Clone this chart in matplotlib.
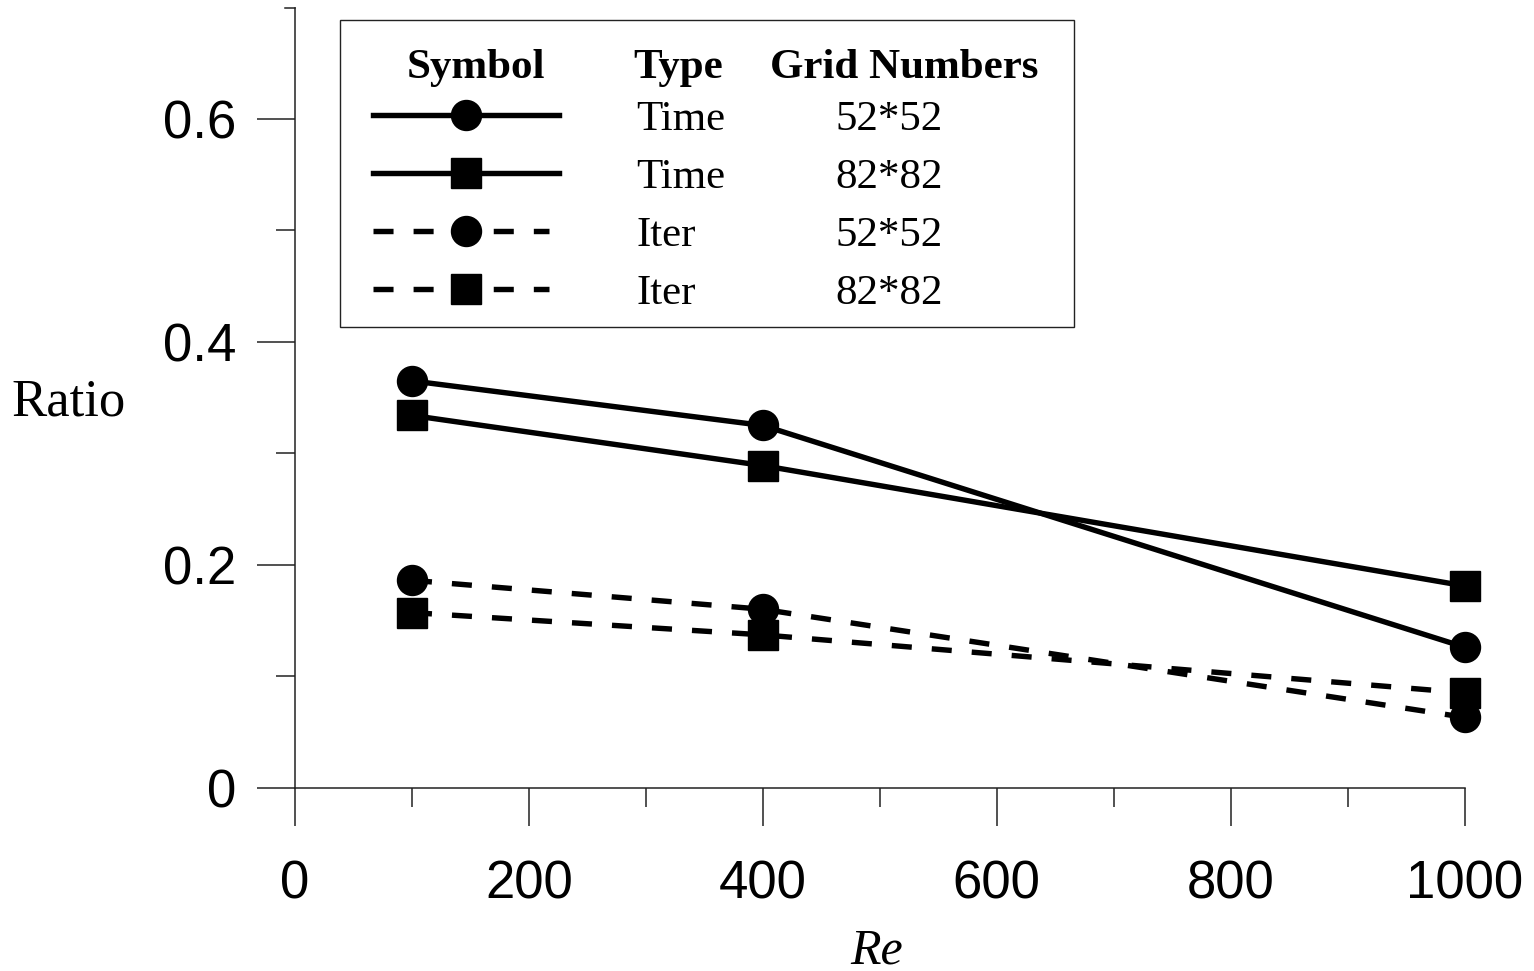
import numpy as np
import matplotlib.pyplot as plt
from matplotlib.lines import Line2D
from matplotlib.patches import Rectangle

# data
re_vals = [100, 400, 1000]
time_52 = [0.365, 0.325, 0.126]
time_82 = [0.334, 0.289, 0.181]
iter_52 = [0.186, 0.160, 0.063]
iter_82 = [0.157, 0.137, 0.085]

series = [time_52, time_82, iter_52, iter_82]
markers = ['o', 's', 'o', 's']
styles = ['solid', 'solid', 'dashed', 'dashed']
types = ['Time', 'Time', 'Iter', 'Iter']
grids = ['52*52', '82*82', '52*52', '82*82']

xticks = [0, 200, 400, 600, 800, 1000]
yticks = [0, 0.2, 0.4, 0.6]
ytick_labels = ['0', '0.2', '0.4', '0.6']

W, H = 1534, 971
serif = 'Liberation Serif'
sans = 'Liberation Sans'
dash = (0, (3.7, 3.7))
lw = 3.9
ms = 21.6


def px(x, y):
    # pixel position -> figure fraction
    return x / W, 1 - y / H


fig = plt.figure(figsize=(W / 100, H / 100), dpi=100)
ax = fig.add_axes([295 / W, (H - 787.5) / H, (1464.5 - 295) / W, (787.5 - 7.7) / H])

for vals, mk, st in zip(series, markers, styles):
    ax.plot(re_vals, vals, color='black', lw=lw, marker=mk, ms=ms,
            linestyle=dash if st == 'dashed' else '-', clip_on=False, zorder=3)

ax.set_xlim(0, 1000)
ax.set_ylim(0, 0.7)
ax.spines['top'].set_visible(False)
ax.spines['right'].set_visible(False)
for s in ['left', 'bottom']:
    ax.spines[s].set_linewidth(1.1)
    ax.spines[s].set_color('#222222')

ax.set_xticks(xticks)
ax.set_xticks(np.arange(100, 1000, 200), minor=True)
ax.set_yticks(yticks)
ax.set_yticklabels(ytick_labels)
ax.set_yticks([0.1, 0.3, 0.5], minor=True)
ax.tick_params(axis='both', which='major', direction='out', length=27.5, width=1.1,
               color='#222222', labelsize=38)
ax.tick_params(axis='both', which='minor', direction='out', length=13.5, width=1.1,
               color='#222222')
ax.tick_params(axis='x', which='major', pad=24)
ax.tick_params(axis='y', which='major', pad=15)
for lab in ax.get_xticklabels() + ax.get_yticklabels():
    lab.set_fontfamily(sans)

# short cap at the top of the y axis
ax.plot([-10 / 1169.5, 0], [1, 1], transform=ax.transAxes, color='#222222',
        lw=1.1, clip_on=False)

fig.text(*px(11, 415), 'Ratio', family=serif, fontsize=38, ha='left', va='baseline')
fig.text(*px(877, 963), 'Re', family=serif, style='italic', fontsize=36,
         ha='center', va='baseline')

# hand-made legend box
x0, y0 = px(340, 327)
x1, y1 = px(1074, 20)
fig.add_artist(Rectangle((x0, y0), x1 - x0, y1 - y0, transform=fig.transFigure,
                         fill=False, edgecolor='#222222', lw=1.0))

fig.text(*px(476, 78), 'Symbol', family=serif, weight='bold', fontsize=31,
         ha='center', va='baseline')
fig.text(*px(633, 78), 'Type', family=serif, weight='bold', fontsize=31,
         ha='left', va='baseline')
fig.text(*px(904, 78), 'Grid Numbers', family=serif, weight='bold', fontsize=31,
         ha='center', va='baseline')

row_y = [115, 173, 231, 289]
for i in range(4):
    y = row_y[i]
    xe = 559 if styles[i] == 'solid' else 549
    (lx0, ly), (lx1, _) = px(373, y), px(xe, y)
    fig.add_artist(Line2D([lx0, lx1], [ly, ly], transform=fig.transFigure, color='black',
                          lw=lw, linestyle=dash if styles[i] == 'dashed' else '-'))
    mx, my = px(466, y)
    fig.add_artist(Line2D([mx], [my], transform=fig.transFigure, color='black',
                          marker=markers[i], ms=ms, linestyle='none'))
    fig.text(*px(636, y + 15), types[i], family=serif, fontsize=31, ha='left', va='baseline')
    fig.text(*px(889, y + 15), grids[i], family=serif, fontsize=31, ha='center', va='baseline')

fig.savefig('out.png', dpi=100)
